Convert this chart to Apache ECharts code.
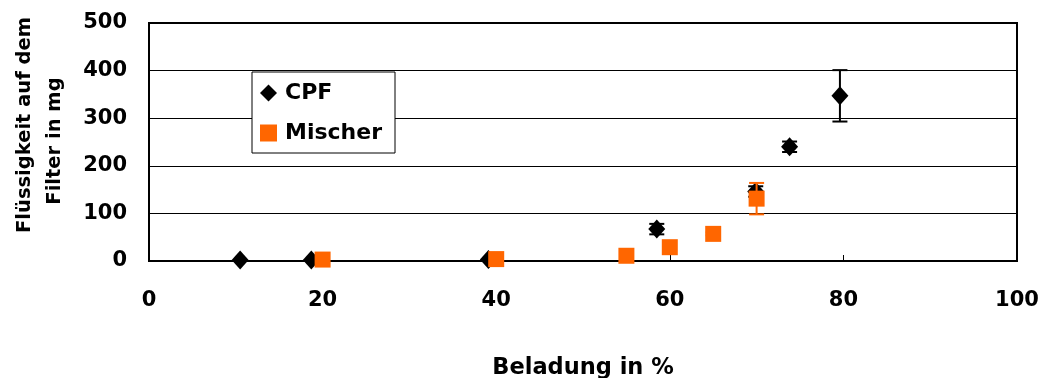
<!DOCTYPE html>
<html>
<head>
<meta charset="utf-8">
<script src="https://cdn.jsdelivr.net/npm/echarts@6/dist/echarts.min.js"></script>
<style>
  html, body { margin: 0; padding: 0; background: #fff; }
  #chart { width: 1041px; height: 378px; }
</style>
</head>
<body>
<div id="chart"></div>
<script>
// Beladung (%) and liquid mass on the filter (mg) with error ranges
const cpfX   = [10.5, 18.7, 39.1, 58.5, 69.9, 73.8, 79.6];
const cpfY   = [2, 2, 3, 67, 146, 240, 347];
const cpfErr = [0, 0, 0, 11, 11, 11, 54];

const mixX   = [20, 40, 55, 60, 65, 70];
const mixY   = [3, 4, 11, 29, 57, 131];
const mixErr = [0, 0, 0, 0, 3, 33];

const xTicks = [0, 20, 40, 60, 80, 100];
const yTicks = [0, 100, 200, 300, 400, 500];

const FONT = 'DejaVu Sans';
const BLACK = '#000';
const ORANGE = '#FF6600';

const toPoints = (xs, ys) => xs.map((x, i) => [x, ys[i]]);
const toErr = (xs, ys, es) => xs.map((x, i) => [x, ys[i], es[i]]);

function errorBars(color) {
  return function (params, api) {
    const x = api.value(0), y = api.value(1), e = api.value(2);
    if (!e) return null;
    const top = api.coord([x, y + e]);
    const bot = api.coord([x, y - e]);
    const half = 7.5;
    const st = { stroke: color, lineWidth: 2 };
    return {
      type: 'group',
      children: [
        { type: 'line', shape: { x1: top[0], y1: top[1], x2: bot[0], y2: bot[1] }, style: st },
        { type: 'line', shape: { x1: top[0] - half, y1: top[1], x2: top[0] + half, y2: top[1] }, style: st },
        { type: 'line', shape: { x1: bot[0] - half, y1: bot[1], x2: bot[0] + half, y2: bot[1] }, style: st }
      ]
    };
  };
}

const chart = echarts.init(document.getElementById('chart'), null, { renderer: 'canvas' });

chart.setOption({
  animation: false,
  backgroundColor: '#fff',
  color: [BLACK, ORANGE],
  grid: {
    left: 149, right: 24, top: 23, bottom: 117,
    outerBoundsMode: 'none',
    containLabel: false,
    show: true, borderColor: '#000', borderWidth: 2, backgroundColor: 'transparent'
  },
  xAxis: {
    type: 'value',
    min: xTicks[0], max: xTicks[xTicks.length - 1], interval: 20,
    name: 'Beladung in %',
    nameLocation: 'middle',
    nameGap: 96,
    nameTextStyle: { fontFamily: FONT, fontWeight: 'bold', fontSize: 22.5, color: '#000' },
    axisLine: { show: true, onZero: false, lineStyle: { color: '#000', width: 2 } },
    axisTick: { show: true, inside: true, length: 6, lineStyle: { color: '#000', width: 1 } },
    axisLabel: { fontFamily: FONT, fontWeight: 'bold', fontSize: 21, color: '#000', margin: 29 },
    splitLine: { show: false }
  },
  yAxis: {
    type: 'value',
    min: yTicks[0], max: yTicks[yTicks.length - 1], interval: 100,
    axisLine: { show: true, lineStyle: { color: '#000', width: 2 } },
    axisTick: { show: false },
    axisLabel: { fontFamily: FONT, fontWeight: 'bold', fontSize: 21, color: '#000', margin: 22 },
    splitLine: { show: true, lineStyle: { color: '#000', width: 1 } }
  },
  legend: {
    left: 252, top: 72,
    orient: 'vertical',
    backgroundColor: '#fff',
    borderColor: '#000', borderWidth: 1,
    padding: [8, 13, 7, 8],
    itemGap: 14,
    itemWidth: 17, itemHeight: 17,
    textStyle: { fontFamily: FONT, fontWeight: 'bold', fontSize: 22, color: '#000', lineHeight: 26, padding: [0, 0, 0, 3] },
    data: [
      { name: 'CPF', icon: 'diamond', itemStyle: { color: BLACK, opacity: 1 } },
      { name: 'Mischer', icon: 'rect', itemStyle: { color: ORANGE, opacity: 1 } }
    ]
  },
  graphic: [
    {
      type: 'text', x: 25, y: 125, rotation: Math.PI / 2,
      style: { text: 'Flüssigkeit auf dem', fontFamily: FONT, fontWeight: 'bold', fontSize: 19.5, fill: '#000', align: 'center', verticalAlign: 'middle' }
    },
    {
      type: 'text', x: 55, y: 141, rotation: Math.PI / 2,
      style: { text: 'Filter in mg', fontFamily: FONT, fontWeight: 'bold', fontSize: 19.5, fill: '#000', align: 'center', verticalAlign: 'middle' }
    }
  ],
  series: [
    {
      name: 'CPF',
      type: 'custom',
      renderItem: errorBars(BLACK),
      itemStyle: { color: BLACK },
      data: toErr(cpfX, cpfY, cpfErr),
      z: 3,
      silent: true
    },
    {
      name: 'CPF',
      type: 'scatter',
      symbol: 'diamond',
      symbolSize: [17, 19],
      itemStyle: { color: BLACK, opacity: 1 },
      data: toPoints(cpfX, cpfY),
      z: 4
    },
    {
      name: 'Mischer',
      type: 'custom',
      renderItem: errorBars(ORANGE),
      itemStyle: { color: ORANGE },
      data: toErr(mixX, mixY, mixErr),
      z: 5,
      silent: true
    },
    {
      name: 'Mischer',
      type: 'scatter',
      symbol: 'rect',
      symbolSize: [16, 16],
      itemStyle: { color: ORANGE, opacity: 1 },
      data: toPoints(mixX, mixY),
      z: 6
    }
  ]
});
</script>
</body>
</html>
